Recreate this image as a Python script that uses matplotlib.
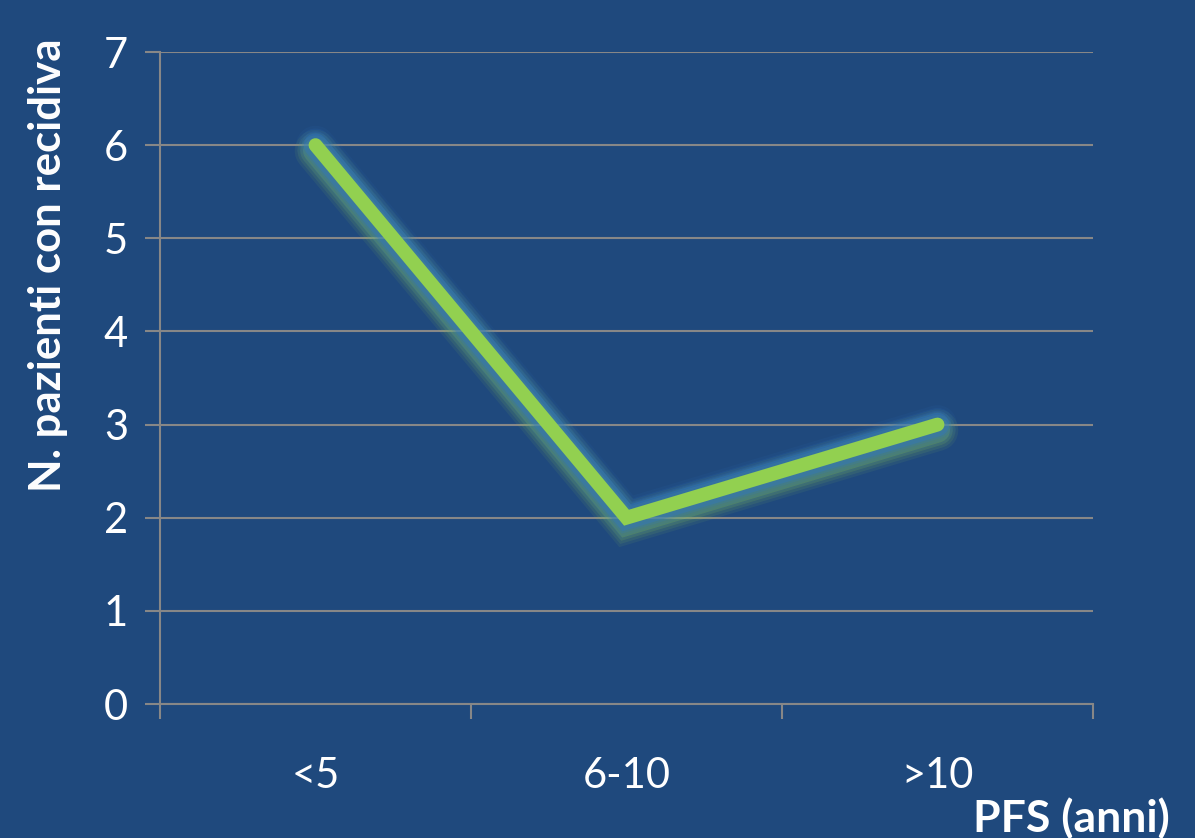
import matplotlib.pyplot as plt
import matplotlib.patheffects as pe

# data
categories = ['<5', '6-10', '>10']
patients = [6, 2, 3]
y_ticks = [0, 1, 2, 3, 4, 5, 6, 7]

bg = '#1F497D'
grid_col = '#878787'
line_col = '#92D050'

plt.rcParams['font.family'] = ['Lato', 'DejaVu Sans']

fig = plt.figure(figsize=(11.95, 8.38), dpi=100, facecolor=bg)
ax = fig.add_axes([160 / 1195, 1 - 704 / 838, (1093 - 160) / 1195, (704 - 52) / 838])
ax.set_facecolor(bg)

x = [i + 0.5 for i in range(len(categories))]

# glow + shadow
glow = []
for w, a in [(30, 0.08), (26, 0.1), (22, 0.14), (18, 0.2)]:
    glow.append(pe.SimpleLineShadow(offset=(0, -4), shadow_color=line_col, alpha=a, linewidth=w))
for w, a in [(28, 0.08), (24, 0.12), (20, 0.2), (17, 0.35)]:
    glow.append(pe.Stroke(linewidth=w, foreground='#2E75C8', alpha=a))
glow.append(pe.Normal())

ax.plot(x, patients, color=line_col, linewidth=10, solid_capstyle='round',
        solid_joinstyle='miter', path_effects=glow, zorder=3)

ax.set_xlim(0, 3)
ax.set_ylim(0, 7)
ax.set_yticks(y_ticks)
ax.set_yticklabels([str(v) for v in y_ticks], fontsize=30, color='white')
ax.set_xticks([0, 1, 2, 3])
ax.set_xticklabels(['', '', '', ''])
ax.set_xticks(x, minor=True)
ax.set_xticklabels(categories, minor=True, fontsize=30, color='white')
ax.tick_params(axis='x', which='minor', length=0, pad=38)
ax.tick_params(axis='x', which='major', length=11, width=1.5, color=grid_col, direction='out')
ax.tick_params(axis='y', length=11, width=1.5, color=grid_col, pad=12)

ax.grid(axis='y', color=grid_col, linewidth=1.5, zorder=1)
ax.set_axisbelow(True)
for s in ['top', 'right']:
    ax.spines[s].set_visible(False)
for s in ['left', 'bottom']:
    ax.spines[s].set_color(grid_col)
    ax.spines[s].set_linewidth(1.5)

fig.text(48 / 1195, 1 - 265 / 838, 'N. pazienti con recidiva', rotation=90,
         fontsize=31.5, fontweight='bold', color='white', ha='center', va='center')
fig.text(1170 / 1195, 1 - 818 / 838, 'PFS (anni)', fontsize=32, fontweight='bold',
         color='white', ha='right', va='center')

fig.savefig('out.png', dpi=100, facecolor=bg)
